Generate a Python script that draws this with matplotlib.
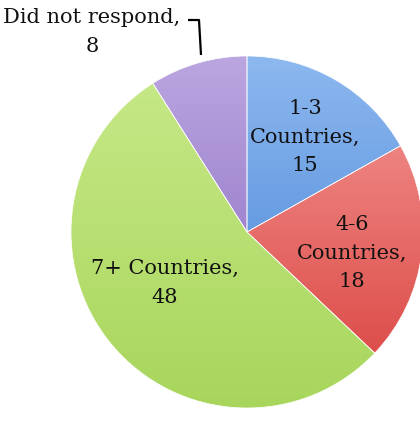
import numpy as np
import matplotlib
matplotlib.use("Agg")
import matplotlib.pyplot as plt

# data
labels = ["1-3\nCountries,\n15", "4-6\nCountries,\n18", "7+ Countries,\n48", "Did not respond,\n8"]
values = [15, 18, 48, 8]
top_colors = ["#8db8ef", "#f59a98", "#c8e98a", "#bba6e0"]
bottom_colors = ["#3f7fd4", "#d8403c", "#a8d65c", "#8464bd"]

W, H = 420, 424
fig = plt.figure(figsize=(W / 100, H / 100), dpi=100)
ax = fig.add_axes([0, 0, 1, 1])

cx, cy, r = 247, H - 232, 176

wedges, _ = ax.pie(values, startangle=90, counterclock=False, radius=r,
                   center=(cx, cy), frame=True,
                   wedgeprops=dict(linewidth=0.5, edgecolor="white"))
ax.set_xlim(0, W)
ax.set_ylim(0, H)
ax.set_aspect("equal")
ax.axis("off")

# vertical gradient fill inside each wedge
ys = np.linspace(0, 1, 256)[:, None]
for w, c0, c1 in zip(wedges, top_colors, bottom_colors):
    a = np.array(matplotlib.colors.to_rgb(c0))
    b = np.array(matplotlib.colors.to_rgb(c1))
    grad = a[None, None, :] * (1 - ys[..., None]) + b[None, None, :] * ys[..., None]
    grad = np.repeat(grad, 2, axis=1)
    im = ax.imshow(grad, extent=(cx - r, cx + r, cy - r, cy + r), origin="upper",
                   aspect="auto", zorder=1.5)
    im.set_clip_path(w)
    w.set_facecolor("none")
    w.set_zorder(2)

font = dict(family="DejaVu Serif", fontsize=15, color="#111111",
            ha="center", va="center", linespacing=1.65)
ax.text(305, H - 137, labels[0], **font)
ax.text(352, H - 253, labels[1], **font)
ax.text(165, H - 283, labels[2], **font)
ax.text(92, H - 32, labels[3], **font)

# leader line for the small slice
ax.plot([188, 199, 201], [H - 20, H - 20, H - 55], color="black", lw=1.6,
        solid_capstyle="butt", zorder=3)

fig.savefig("out.png", dpi=100)
